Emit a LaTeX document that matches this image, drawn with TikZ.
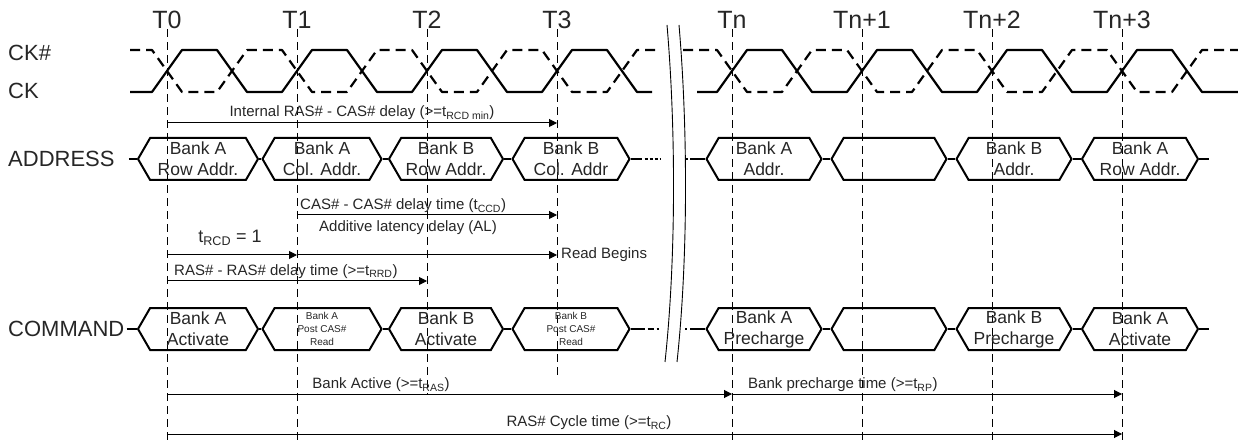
\documentclass[tikz,border=0pt]{standalone}
\usepackage{fontspec}
\setmainfont{Liberation Sans}
\usepackage{tikz}
\usetikzlibrary{arrows.meta,shapes.symbols,calc}
\newcommand{\tickfont}{\fontsize{25}{28}\selectfont}
\newcommand{\sigfont}{\fontsize{22}{26}\selectfont}
\newcommand{\hexfont}{\fontsize{17.5}{21}\selectfont}
\newcommand{\tinyhex}{\fontsize{10}{13}\selectfont}
\newcommand{\annfont}{\fontsize{15}{18}\selectfont}

\begin{document}
\begin{tikzpicture}[x=1pt, y=-1pt,
  every node/.style={font=\annfont, inner sep=0pt, text=black!85},
  clk/.style={line width=2.2pt, line join=round},
  clkn/.style={clk, dash pattern=on 10pt off 6pt},
  tline/.style={line width=1pt, dash pattern=on 8pt off 5pt},
  hexbus/.style={draw, line width=2pt, shape=signal, signal to=east and west,
    signal pointer angle=120, minimum height=42pt, align=center, font=\hexfont},
  wire/.style={line width=2pt},
  dots/.style={wire, dash pattern=on 3pt off 2pt},
  span/.style={-{Triangle[length=8pt,width=8pt]}, line width=1pt}]
  \useasboundingbox (0,0) rectangle (1238,443);

  % clock edges and their dashed guide lines
  \foreach \nm/\x/\txt/\yb in {t0/167/T0/440, t1/297/T1/440, t2/427/T2/394,
      t3/557/T3/378, tn/732/Tn/440, tn1/862/Tn+1/440, tn2/992/Tn+2/440, tn3/1122/Tn+3/440} {
    \node[font=\tickfont] (\nm) at (\x,20) {\txt};
    \draw[tline] (\nm.south) -- (\nm |- 0,\yb);
  }

  \node[font=\sigfont, anchor=west] (ckn) at (8,53) {CK\#};
  \node[font=\sigfont, anchor=west] (ck) at (8,91) {CK};

  \draw[clk] (130,92) foreach \c in {167,297,427,557} {
    -- (\c-15,92) -- (\c+15,50) -- (\c+50,50) -- (\c+80,92) } -- (652,92);
  \draw[clkn] (130,50) foreach \c in {167,297,427,557} {
    -- (\c-15,50) -- (\c+15,92) -- (\c+50,92) -- (\c+80,50) } -- (660,50);
  \draw[clk] (697,92) foreach \c in {732,862,992,1122} {
    -- (\c-15,92) -- (\c+15,50) -- (\c+50,50) -- (\c+80,92) } -- (1238,92);
  \draw[clkn] (683,50) foreach \c in {732,862,992,1122} {
    -- (\c-15,50) -- (\c+15,92) -- (\c+50,92) -- (\c+80,50) } -- (1238,50);

  % time break
  \draw[line width=0.9pt] (667,25) .. controls (676,130) and (676,260) .. (665,362);
  \draw[line width=0.9pt] (679,25) .. controls (688,130) and (688,260) .. (677,362);

  % address bus
  \node[font=\sigfont, anchor=west] (addr) at (8,159) {ADDRESS};
  \node[hexbus, minimum width=120pt] (a1) at (198,159) {Bank A\\Row Addr.};
  \node[hexbus, minimum width=119pt] (a2) at (322,159) {Bank A\\Col. Addr.};
  \node[hexbus, minimum width=114pt] (a3) at (446,159) {Bank B\\Row Addr.};
  \node[hexbus, minimum width=117pt] (a4) at (571,159) {Bank B\\Col. Addr};
  \node[hexbus, minimum width=115pt] (b1) at (764,159) {Bank A\\Addr.};
  \node[hexbus, minimum width=115pt] (b2) at (889,159) {};
  \node[hexbus, minimum width=115pt] (b3) at (1014,159) {Bank B\\Addr.};
  \node[hexbus, minimum width=116pt] (b4) at (1140,159) {Bank A\\Row Addr.};
  \coordinate (abrk1) at (660,159);
  \coordinate (abrk2) at (685,159);
  \draw[wire] ([xshift=14pt]addr.east) -- (a1.west);
  \draw[wire] (a1.east) -- (a2.west);
  \draw[wire] (a2.east) -- (a3.west);
  \draw[wire] (a3.east) -- (a4.west);
  \draw[wire] (a4.east) -- ++(11,0);
  \draw[dots] ([xshift=14pt]a4.east) -- (abrk1);
  \draw[dots] (abrk2) -- ++(9,0);
  \draw[wire] ([xshift=-12pt]b1.west) -- (b1.west);
  \draw[wire] (b1.east) -- (b2.west);
  \draw[wire] (b2.east) -- (b3.west);
  \draw[wire] (b3.east) -- (b4.west);
  \draw[wire] (b4.east) -- ++(10,0);

  % command bus
  \node[font=\sigfont, anchor=west] (cmd) at (8,329) {COMMAND};
  \node[hexbus, minimum width=120pt] (c1) at (198,329) {Bank A\\Activate};
  \node[hexbus, minimum width=119pt, font=\tinyhex] (c2) at (322,329) {Bank A\\Post CAS\#\\Read};
  \node[hexbus, minimum width=114pt] (c3) at (446,329) {Bank B\\Activate};
  \node[hexbus, minimum width=117pt, font=\tinyhex] (c4) at (571,329) {Bank B\\Post CAS\#\\Read};
  \node[hexbus, minimum width=115pt] (d1) at (764,329) {Bank A\\Precharge};
  \node[hexbus, minimum width=115pt] (d2) at (889,329) {};
  \node[hexbus, minimum width=115pt] (d3) at (1014,329) {Bank B\\Precharge};
  \node[hexbus, minimum width=116pt] (d4) at (1140,329) {Bank A\\Activate};
  \coordinate (cbrk1) at (660,329);
  \coordinate (cbrk2) at (685,329);
  \draw[wire] ([xshift=2pt]cmd.east) -- (c1.west);
  \draw[wire] (c1.east) -- (c2.west);
  \draw[wire] (c2.east) -- (c3.west);
  \draw[wire] (c3.east) -- (c4.west);
  \draw[wire] (c4.east) -- ++(14,0);
  \draw[wire, dash pattern=on 6pt off 3pt on 2pt off 3pt] ([xshift=17pt]c4.east) -- (cbrk1);
  \draw[wire, dash pattern=on 2pt off 3pt on 6pt off 3pt] (cbrk2) -- ++(10,0);
  \draw[wire] ([xshift=-12pt]d1.west) -- (d1.west);
  \draw[wire] (d1.east) -- (d2.west);
  \draw[wire] (d2.east) -- (d3.west);
  \draw[wire] (d3.east) -- (d4.west);
  \draw[wire] (d4.east) -- ++(10,0);

  % timing spans
  \draw[span] (t0 |- 0,123) -- (t3 |- 0,123)
    node[midway, above=3pt] (rcdmin) {Internal RAS\# - CAS\# delay (>=t\textsubscript{RCD min})};
  \draw[span] (t1 |- 0,215) -- (t3 |- 0,215);
  \node[anchor=south west] (ccd) at ([xshift=3pt]t1 |- 0,213) {CAS\# - CAS\# delay time (t\textsubscript{CCD})};
  \node (al) at (408,228) {Additive latency delay (AL)};
  \node[font=\fontsize{18}{21}\selectfont] (rcd) at (230,238) {t\textsubscript{RCD} = 1};
  \draw[span] (t0 |- 0,255) -- (t1 |- 0,255);
  \draw[span] (t1 |- 0,255) -- (t3 |- 0,255);
  \node[anchor=west] (rdbeg) at ([xshift=4pt]t3 |- 0,255) {Read Begins};
  \draw[span] (t0 |- 0,281) -- (t2 |- 0,281);
  \node[anchor=south west] (rrd) at ([xshift=7pt]t0 |- 0,279) {RAS\# - RAS\# delay time (>=t\textsubscript{RRD})};
  \draw[span] (t0 |- 0,394) -- (tn |- 0,394);
  \node (ras) at (381,385) {Bank Active (>=t\textsubscript{RAS})};
  \draw[span] (tn |- 0,394) -- (tn3 |- 0,394);
  \node[anchor=west] (rp) at (748,385) {Bank precharge time (>=t\textsubscript{RP})};
  \draw[span] (t0 |- 0,434) -- (tn3 |- 0,434);
  \node (rc) at (589,423) {RAS\# Cycle time (>=t\textsubscript{RC})};
\end{tikzpicture}
\end{document}
